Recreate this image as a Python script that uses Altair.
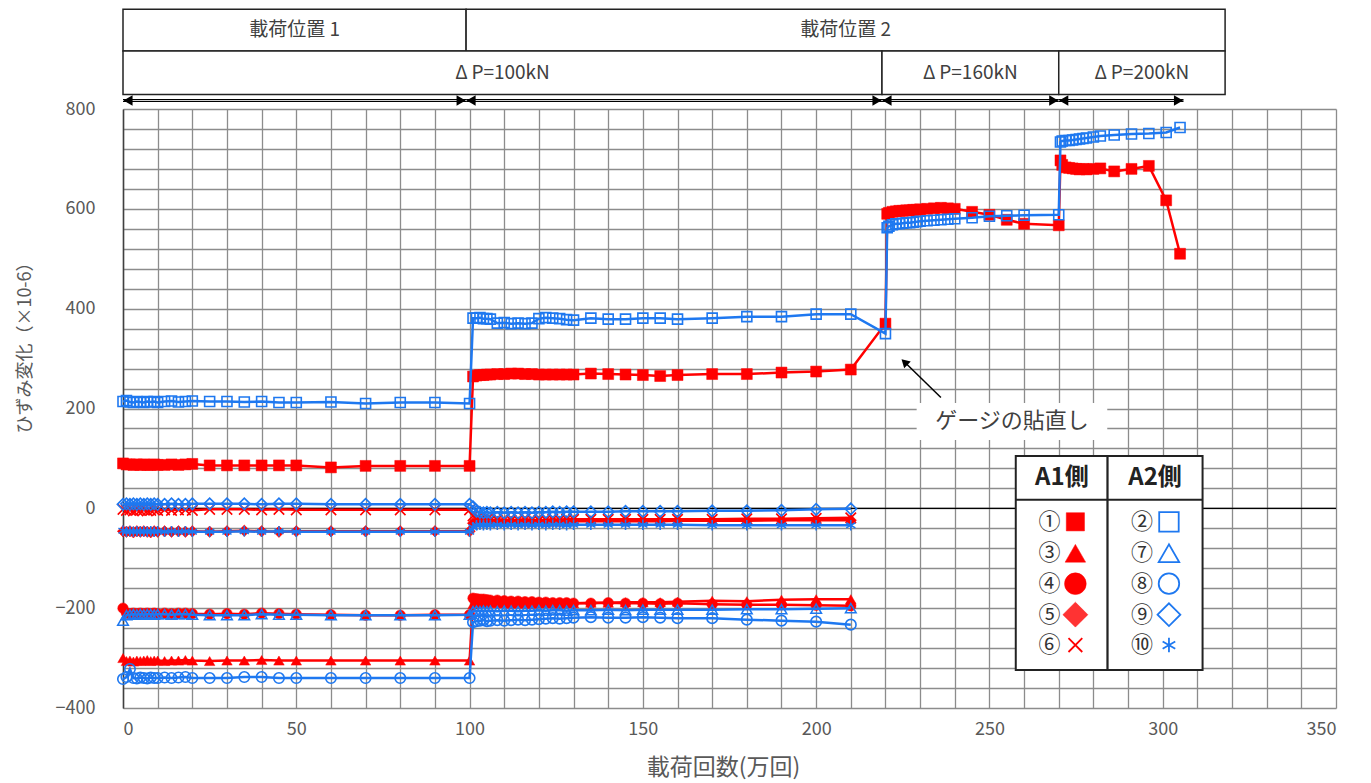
import altair as alt
import pandas as pd

FONT = "Noto Sans CJK JP"
RED = "#FF0000"
BLUE = "#1E78F0"
TXT = "#595959"
GRID = "#8C8C8C"

# ---------------- x positions (万回) ----------------
X1 = [0, 1, 2, 3, 4, 5, 6, 7, 8, 9, 10, 12, 14, 16, 18, 20, 25, 30, 35, 40, 45, 50, 60, 70, 80, 90, 100]
X2 = [101, 102, 103, 104, 105, 106, 108, 110, 112, 114, 116, 118, 120, 122, 124, 126, 128, 130,
      135, 140, 145, 150, 155, 160, 170, 180, 190, 200, 210]
X3 = [220, 220.5, 221, 222, 223, 224, 225, 226, 227, 228, 229, 230, 232, 234, 236, 238, 240,
      245, 250, 255, 260, 270]
X4 = [270.5, 271, 272, 273, 274, 275, 276, 277, 278, 280, 282, 286, 291, 296, 301, 305]

# ---------------- strain values (×10-6) ----------------
G1_P1 = [90, 88, 88, 87, 88, 87, 88, 87, 87, 88, 87, 87, 88, 87, 88, 89, 86, 86, 86, 86, 86, 86, 82, 85, 85, 85, 85]
G1_P2 = [264, 266, 267, 267, 268, 268, 269, 269, 270, 270, 269, 269, 268, 268, 268, 268, 268, 268,
         270, 269, 268, 267, 265, 267, 269, 269, 272, 274, 278]
G1_P3 = [370, 590, 592, 594, 595, 596, 596, 597, 597, 598, 598, 599, 600, 601, 602, 601, 600,
         594, 588, 578, 570, 567]
G1_P4 = [697, 688, 683, 682, 681, 680, 679, 680, 679, 680, 681, 675, 680, 686, 617, 510]

G2_P1 = [214, 216, 213, 212, 214, 213, 212, 214, 213, 214, 212, 214, 215, 213, 214, 215, 214, 214, 213, 214,
         212, 212, 213, 210, 212, 212, 210]
G2_P2 = [381, 381, 382, 380, 380, 379, 371, 372, 370, 371, 370, 371, 380, 382, 381, 380, 378, 377,
         381, 379, 379, 381, 381, 379, 381, 384, 384, 389, 389]
G2_P3 = [350, 562, 565, 568, 570, 570, 571, 572, 572, 573, 574, 575, 576, 577, 578, 579, 580,
         582, 585, 586, 587, 588]
G2_P4 = [734, 736, 737, 737, 738, 739, 740, 741, 742, 744, 746, 748, 750, 751, 753, 763]

G3_P1 = [-300, -306, -305, -307, -305, -306, -305, -304, -306, -305, -305, -306, -305, -305, -304, -305,
         -306, -305, -305, -304, -305, -305, -305, -305, -305, -305, -305]
G3_P2 = [-192, -190, -189, -190, -188, -189, -190, -190, -191, -190, -191, -191, -190, -190, -190, -191,
         -190, -190, -189, -189, -188, -188, -188, -187, -185, -186, -183, -182, -182]

G4_P1 = [-200, -210, -211, -210, -211, -210, -211, -210, -211, -210, -211, -210, -211, -210, -210, -211,
         -212, -211, -212, -210, -211, -212, -213, -214, -214, -213, -213]
G4_P2 = [-180, -181, -182, -182, -183, -184, -184, -185, -186, -186, -187, -187, -188, -188, -189, -189,
         -189, -190, -190, -189, -190, -190, -191, -190, -192, -193, -193, -194, -195]

G5_P1 = [-46, -47, -46, -48, -46, -47, -46, -47, -48, -46, -47, -46, -47, -46, -47, -46, -47, -46, -45, -46,
         -47, -46, -46, -46, -46, -46, -46]
G5_P2 = [-30, -28, -27, -28, -27, -28, -27, -28, -27, -28, -27, -28, -27, -28, -27, -27, -26, -26, -26, -26,
         -26, -26, -26, -25, -25, -25, -24, -24, -24]

G6_P1 = [-2, -4, -3, -5, -3, -4, -3, -5, -4, -3, -4, -3, -4, -3, -3, -4, -2, -2, -2, -3, -2, -3, -3, -3, -3, -3, -3]
G6_P2 = [-15, -20, -22, -23, -22, -24, -23, -22, -24, -23, -22, -23, -24, -23, -22, -23, -22, -22, -22, -22,
         -22, -22, -22, -22, -22, -21, -21, -20, -19]

G7_P1 = [-225, -214, -213, -212, -213, -212, -213, -212, -212, -213, -212, -212, -213, -212, -212, -213,
         -214, -214, -214, -212, -213, -213, -214, -214, -214, -214, -213]
G7_P2 = [-206, -205, -206, -205, -206, -205, -206, -205, -205, -206, -205, -205, -204, -205, -204, -204,
         -205, -204, -204, -203, -204, -203, -203, -203, -203, -202, -202, -201, -200]

G8_P1 = [-342, -338, -322, -340, -341, -339, -340, -341, -339, -340, -340, -339, -340, -339, -338, -340,
         -340, -340, -338, -338, -340, -340, -340, -340, -340, -340, -340]
G8_P2 = [-228, -226, -225, -224, -226, -225, -224, -225, -224, -223, -224, -223, -222, -221, -220, -221,
         -220, -219, -218, -219, -219, -218, -219, -220, -220, -223, -225, -227, -233]

G9_P1 = [8, 9, 8, 9, 8, 9, 8, 9, 8, 9, 8, 8, 9, 8, 8, 9, 9, 9, 9, 8, 9, 9, 8, 8, 8, 8, 8]
G9_P2 = [3, -6, -8, -9, -8, -9, -8, -9, -8, -9, -8, -9, -8, -8, -7, -8, -7, -7, -7, -7, -6, -6, -6, -6, -5,
         -5, -4, -2, -1]

G10_P1 = [-45, -47, -46, -47, -46, -47, -46, -47, -46, -47, -46, -47, -46, -47, -46, -47, -47, -47, -46, -47,
          -46, -47, -47, -47, -47, -47, -47]
G10_P2 = [-38, -34, -33, -34, -33, -34, -33, -34, -33, -34, -33, -34, -33, -34, -33, -33, -34, -33, -33, -33,
          -33, -33, -33, -33, -34, -34, -34, -34, -34]

SERIES = [
    ("①", X1 + X2 + X3 + X4, G1_P1 + G1_P2 + G1_P3 + G1_P4),
    ("②", X1 + X2 + X3 + X4, G2_P1 + G2_P2 + G2_P3 + G2_P4),
    ("③", X1 + X2, G3_P1 + G3_P2),
    ("④", X1 + X2, G4_P1 + G4_P2),
    ("⑤", X1 + X2, G5_P1 + G5_P2),
    ("⑥", X1 + X2, G6_P1 + G6_P2),
    ("⑦", X1 + X2, G7_P1 + G7_P2),
    ("⑧", X1 + X2, G8_P1 + G8_P2),
    ("⑨", X1 + X2, G9_P1 + G9_P2),
    ("⑩", X1 + X2, G10_P1 + G10_P2),
]

CROSS = "M-1,-1L1,1M-1,1L1,-1"
STAR = "M0,-1L0,1M-0.87,-0.5L0.87,0.5M-0.87,0.5L0.87,-0.5"
STYLE = {
    "①": dict(color=RED, shape="square", filled=True, size=120, lsize=330),
    "③": dict(color=RED, shape="triangle-up", filled=True, size=110, lsize=420),
    "④": dict(color=RED, shape="circle", filled=True, size=110, lsize=470),
    "⑤": dict(color=RED, shape="diamond", filled=True, size=130, lsize=620),
    "⑥": dict(color=RED, shape=CROSS, filled=False, size=110, lsize=190),
    "②": dict(color=BLUE, shape="square", filled=False, size=100, lsize=380),
    "⑦": dict(color=BLUE, shape="triangle-up", filled=False, size=110, lsize=420),
    "⑧": dict(color=BLUE, shape="circle", filled=False, size=110, lsize=420),
    "⑨": dict(color=BLUE, shape="diamond", filled=False, size=130, lsize=520),
    "⑩": dict(color=BLUE, shape=STAR, filled=False, size=110, lsize=210),
}

# ---------------- header / annotation layout (data units) ----------------
ROW1_X = [0, 99]
ROW1_X2 = [99, 318]
ROW1_TEXT = ["載荷位置 1", "載荷位置 2"]
ROW2_X = [0, 219, 270]
ROW2_X2 = [219, 270, 318]
ROW2_TEXT = ["Δ\u2009P=100kN", "Δ\u2009P=160kN", "Δ\u2009P=200kN"]
ARROW_X = [0, 99, 219, 270]
ARROW_X2 = [99, 219, 270, 306]

LEG_LEFT = ["①", "③", "④", "⑤", "⑥"]
LEG_RIGHT = ["②", "⑦", "⑧", "⑨", "⑩"]
LEG_ROW_Y = [-27, -90, -151, -213, -274]
LEG_HEAD = ["A1側", "A2側"]

NOTE_TEXT = "ゲージの貼直し"

XSCALE = alt.Scale(domain=[0, 350], nice=False, zero=False)
YSCALE = alt.Scale(domain=[-400, 800], nice=False, zero=False)
XAXIS = alt.Axis(
    title="載荷回数(万回)", values=list(range(0, 351, 10)),
    labelExpr="datum.value % 50 === 0 ? datum.label : ''",
    grid=True, gridColor=GRID, gridWidth=1.3, ticks=False, domain=False,
    labelFont=FONT, labelFontSize=18, labelColor=TXT, labelPadding=12,
    titleFont=FONT, titleFontSize=23, titleFontWeight="normal", titleColor=TXT,
    titleX=600, titleY=59, titleBaseline="middle", titleAnchor="start", titleAlign="center",
)
YAXIS = alt.Axis(
    title="ひずみ変化（×10-6）", values=list(range(-400, 801, 40)),
    labelExpr="datum.value % 200 === 0 ? datum.label : ''",
    grid=True, gridColor=GRID, gridWidth=1.3, ticks=False, domain=True,
    domainColor="#404040", domainWidth=1.5,
    labelFont=FONT, labelFontSize=18, labelColor=TXT, labelPadding=28,
    titleFont=FONT, titleFontSize=18, titleFontWeight="normal", titleColor=TXT,
    titleX=-98, titleY=234, titleAngle=270, titleBaseline="middle", titleAlign="center",
)


def X(f="x"):
    return alt.X(f"{f}:Q", scale=XSCALE, axis=XAXIS)


def Y(f="y"):
    return alt.Y(f"{f}:Q", scale=YSCALE, axis=YAXIS)


layers = []

# zero line
zero_df = pd.DataFrame({"y": [0]})
layers.append(alt.Chart(zero_df).mark_rule(color="black", strokeWidth=1.3).encode(y=Y("y")))

# data series
for name, xs, ys in SERIES:
    st = STYLE[name]
    df = pd.DataFrame({"x": xs, "y": ys})
    base = alt.Chart(df)
    layers.append(base.mark_line(color=st["color"], strokeWidth=2.5).encode(x=X(), y=Y()))
    pt_kwargs = dict(shape=st["shape"], size=st["size"], filled=st["filled"], opacity=1)
    if st["filled"]:
        pt_kwargs.update(fill=st["color"], stroke=st["color"], strokeWidth=0.5)
    else:
        pt_kwargs.update(stroke=st["color"], strokeWidth=1.6)
    layers.append(base.mark_point(**pt_kwargs).encode(x=X(), y=Y()))

# ---------------- header ----------------
row1 = pd.DataFrame({"x": ROW1_X, "x2": ROW1_X2, "t": ROW1_TEXT})
row1["y"] = 1000
row1["y2"] = 916
row1["xm"] = (row1["x"] + row1["x2"]) / 2
row1["ym"] = 959
row2 = pd.DataFrame({"x": ROW2_X, "x2": ROW2_X2, "t": ROW2_TEXT})
row2["y"] = 916
row2["y2"] = 829
row2["xm"] = (row2["x"] + row2["x2"]) / 2
row2["ym"] = 872
for r in (row1, row2):
    layers.append(alt.Chart(r).mark_rect(fill="white", stroke="#222222", strokeWidth=1.5).encode(
        x=X("x"), x2="x2", y=Y("y"), y2="y2"))
    layers.append(alt.Chart(r).mark_text(font=FONT, fontSize=19, color="#404040",
                                         align="center", baseline="middle").encode(
        x=X("xm"), y=Y("ym"), text="t:N"))

arr = pd.DataFrame({"x": ARROW_X, "x2": ARROW_X2})
arr["y"] = 817
layers.append(alt.Chart(arr).mark_rule(color="black", strokeWidth=3.2).encode(x=X("x"), x2="x2", y=Y("y")))
layers.append(alt.Chart(arr).mark_rule(color="#d0d0d0", strokeWidth=1).encode(x=X("x"), x2="x2", y=Y("y")))
layers.append(alt.Chart(arr).mark_point(shape="triangle-left", filled=True, color="black", size=110,
                                        opacity=1, xOffset=5).encode(x=X("x"), y=Y("y")))
layers.append(alt.Chart(arr).mark_point(shape="triangle-right", filled=True, color="black", size=110,
                                        opacity=1, xOffset=-5).encode(x=X("x2"), y=Y("y")))

# ---------------- annotation ----------------
note_box = pd.DataFrame({"x": [229], "x2": [284], "y": [211], "y2": [137]})
layers.append(alt.Chart(note_box).mark_rect(fill="white").encode(x=X("x"), x2="x2", y=Y("y"), y2="y2"))
note = pd.DataFrame({"x": [256.5], "y": [175], "t": [NOTE_TEXT]})
layers.append(alt.Chart(note).mark_text(font=FONT, fontSize=22, color="#404040",
                                        align="center", baseline="middle").encode(
    x=X("x"), y=Y("y"), text="t:N"))
arrow_note = pd.DataFrame({"x": [236], "y": [222], "x2": [225.5], "y2": [293]})
layers.append(alt.Chart(arrow_note).mark_rule(color="black", strokeWidth=1.5).encode(
    x=X("x"), y=Y("y"), x2="x2", y2="y2"))
head_note = pd.DataFrame({"x": [225.5], "y": [293]})
layers.append(alt.Chart(head_note).mark_point(shape="triangle-up", filled=True, color="black", size=90,
                                              opacity=1, angle=314).encode(x=X("x"), y=Y("y")))

# ---------------- legend table ----------------
leg_box = pd.DataFrame({"x": [257.6, 284.1], "x2": [284.1, 311.5]})
leg_box["y"] = 105
leg_box["y2"] = -324
layers.append(alt.Chart(leg_box).mark_rect(fill="white", stroke="#222222", strokeWidth=2).encode(
    x=X("x"), x2="x2", y=Y("y"), y2="y2"))
leg_line = pd.DataFrame({"x": [257.6], "x2": [311.5], "y": [17]})
layers.append(alt.Chart(leg_line).mark_rule(color="#222222", strokeWidth=2).encode(x=X("x"), x2="x2", y=Y("y")))
leg_head = pd.DataFrame({"x": [270.9, 297.8], "y": [61, 61], "t": LEG_HEAD})
layers.append(alt.Chart(leg_head).mark_text(font=FONT, fontSize=24, fontWeight="bold", color="#222222",
                                            align="center", baseline="middle").encode(
    x=X("x"), y=Y("y"), text="t:N"))

for col, num_x, mk_x in ((LEG_LEFT, 267.3, 274.8), (LEG_RIGHT, 294.0, 301.8)):
    lab = pd.DataFrame({"x": [num_x] * len(col), "y": LEG_ROW_Y, "t": col})
    layers.append(alt.Chart(lab).mark_text(font=FONT, fontSize=22, color="#333333",
                                           align="center", baseline="middle").encode(
        x=X("x"), y=Y("y"), text="t:N"))
    for name, yy in zip(col, LEG_ROW_Y):
        st = STYLE[name]
        d = pd.DataFrame({"x": [mk_x], "y": [yy]})
        kw = dict(shape=st["shape"], size=st["lsize"], filled=st["filled"], opacity=1)
        if st["filled"]:
            kw.update(fill=st["color"], stroke=st["color"], strokeWidth=0.5)
            if name == "⑤":
                kw.update(fillOpacity=0.8)
        else:
            kw.update(stroke=st["color"], strokeWidth=1.8)
        layers.append(alt.Chart(d).mark_point(**kw).encode(x=X("x"), y=Y("y")))

chart = alt.layer(*layers).properties(
    width=1213, height=599,
    autosize=alt.AutoSizeParams(type="none"),
    padding={"left": 115, "top": 101, "right": 25, "bottom": 73},
).configure_view(stroke=None)

chart.save("out.html", embed_options={"renderer": "svg", "actions": False})
